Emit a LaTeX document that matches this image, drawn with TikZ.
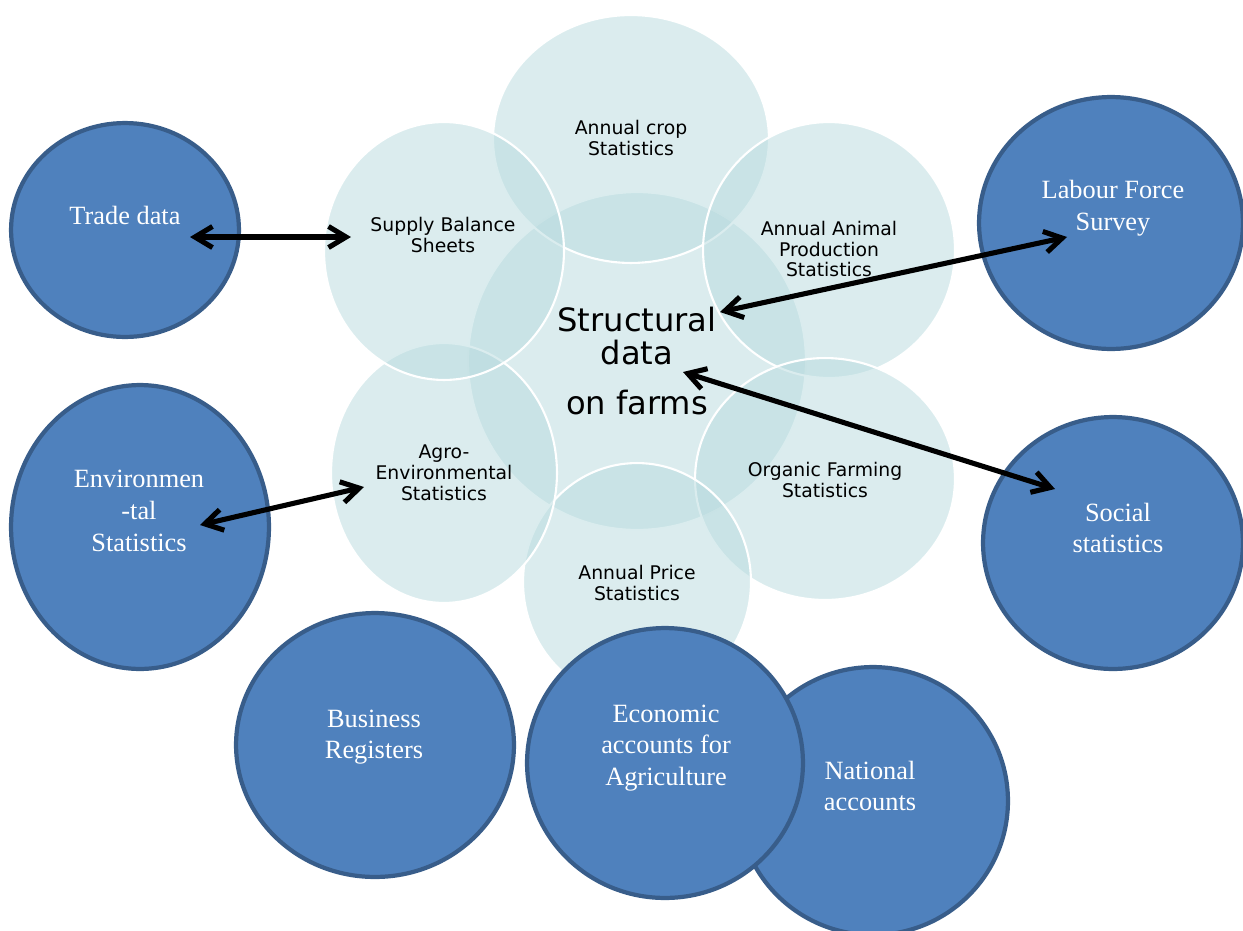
\documentclass[tikz,border=0pt]{standalone}
\usepackage{fontspec}
\setmainfont{Liberation Serif}
\newfontfamily\verdana{DejaVu Sans}
\usetikzlibrary{shapes.geometric,arrows.meta}

\definecolor{paleaqua}{RGB}{183,218,222}
\definecolor{boxblue}{RGB}{79,129,189}
\definecolor{rimblue}{RGB}{56,93,138}

\tikzset{
  span/.style 2 args={minimum width=#1*0.04cm, minimum height=#2*0.04cm},
  pale/.style={ellipse, inner sep=0pt, fill=paleaqua, fill opacity=0.5, draw=white, line width=1.2pt},
  dark/.style={ellipse, inner sep=0pt, fill=boxblue, draw=rimblue, line width=2.4pt},
  paletext/.style={font=\verdana\fontsize{10.7}{11.9}\selectfont, align=center},
  darktext/.style={font=\fontsize{15}{18}\selectfont, text=white, align=center},
  link/.style={{Straight Barb[length=10pt,width=12pt]}-{Straight Barb[length=10pt,width=12pt]}, line width=2.9pt}
}

\begin{document}
\begin{tikzpicture}[x=0.02cm, y=-0.02cm]
  \useasboundingbox (0,0) rectangle (1243,930);

  % overlapping pale circles, core first
  \foreach \n/\x/\y/\rx/\ry in {core/637/361/169/169, crop/631/139/138/124, animal/829/250/126/128,
      organic/825/479/130/121, price/637/582/114/119, agro/444/473/113/130, supply/444/251/120/129}
    \node[pale, span={\rx}{\ry}] (\n) at (\x,\y) {};

  \node[paletext] (crop-txt) at (631,138) {Annual crop\\Statistics};
  \node[paletext] (supply-txt) at (443,235) {Supply Balance\\Sheets};
  \node[paletext] (animal-txt) at (829,249) {Annual Animal\\Production\\Statistics};
  \node[paletext] (agro-txt) at (444,473) {Agro-\\Environmental\\Statistics};
  \node[paletext] (organic-txt) at (825,480) {Organic Farming\\Statistics};
  \node[paletext] (price-txt) at (637,583) {Annual Price\\Statistics};
  \node[align=center, font=\verdana\fontsize{18.3}{18.7}\selectfont] (core-txt) at (637,361)
    {Structural\\data\\[9.7pt]on farms};

  % outer blue circles
  \foreach \n/\x/\y/\rx/\ry in {trade/125/230/114/107, labour/1111/223/132/126, env/140/527/129/142,
      social/1113/543/130/126, business/375/745/139/132, national/873/801/135/134, econ/665/763/138/135}
    \node[dark, span={\rx}{\ry}] (\n) at (\x,\y) {};

  \node[darktext] (trade-txt) at (125,215) {Trade data};
  \node[darktext] (labour-txt) at (1113,208) {Labour Force\\Survey};
  \node[darktext] (env-txt) at (139,511) {Environmen\\-tal\\Statistics};
  \node[darktext] (social-txt) at (1118,528) {Social\\statistics};
  \node[darktext] (business-txt) at (374,737) {Business\\Registers};
  \node[darktext] (econ-txt) at (666,748) {Economic\\accounts for\\Agriculture};
  \node[darktext] (national-txt) at (870,786) {National\\accounts};

  % arrow ends
  \coordinate (trade-in) at (190,237);
  \coordinate (supply-in) at (351,237);
  \coordinate (core-a) at (720,312);
  \coordinate (labour-in) at (1067,237);
  \coordinate (core-b) at (683,372);
  \coordinate (social-in) at (1055,489);
  \coordinate (env-in) at (200,525);
  \coordinate (agro-in) at (364,487);

  \draw[link] (trade-in) -- (supply-in);
  \draw[link] (core-a) -- (labour-in);
  \draw[link] (core-b) -- (social-in);
  \draw[link] (env-in) -- (agro-in);
\end{tikzpicture}
\end{document}
